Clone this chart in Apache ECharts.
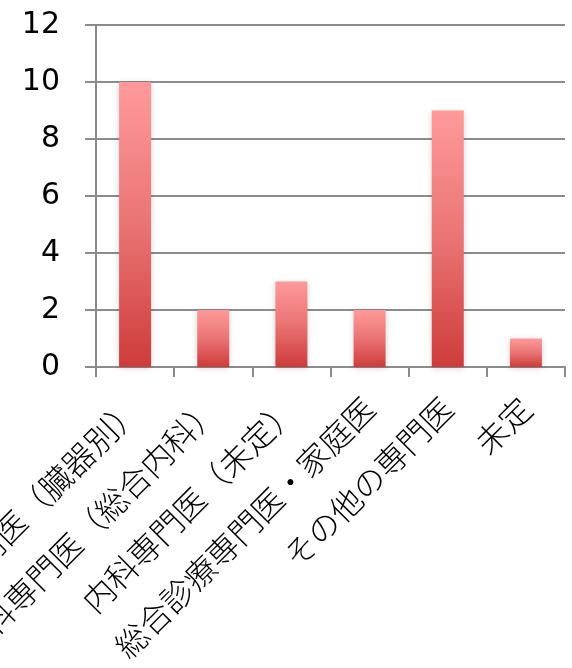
<!DOCTYPE html>
<html>
<head>
<meta charset="utf-8">
<script src="https://cdn.jsdelivr.net/npm/echarts@6/dist/echarts.min.js"></script>
<style>
  html, body { margin: 0; padding: 0; background: #ffffff; }
  #chart { width: 572px; height: 668px; }
</style>
</head>
<body>
<div id="chart"></div>
<script>
// Desired specialty (number of respondents)
const categories = [
  '内科専門医（臓器別）',
  '内科専門医（総合内科）',
  '内科専門医（未定）',
  '総合診療専門医・家庭医',
  'その他の専門医',
  '未定'
];
const counts = [10, 2, 3, 2, 9, 1];
const yTicks = { min: 0, max: 12, interval: 2 };

const gray = '#8c8c8c';
const chart = echarts.init(document.getElementById('chart'), null, { renderer: 'canvas' });

chart.setOption({
  animation: false,
  backgroundColor: '#ffffff',
  grid: {
    left: 96, right: 7, top: 25, bottom: 301,
    containLabel: false,
    outerBoundsMode: 'none'
  },
  xAxis: {
    type: 'category',
    data: categories,
    boundaryGap: true,
    axisLine: { show: true, lineStyle: { color: gray, width: 2 } },
    axisTick: { show: true, length: 10, lineStyle: { color: gray, width: 2 } },
    axisLabel: {
      interval: 0,
      rotate: 45,
      margin: 36,
      color: '#000000',
      fontSize: 32,
      fontWeight: 300,
      hideOverlap: false,
      fontFamily: '"Noto Sans CJK JP Light", "Noto Sans CJK JP", sans-serif'
    }
  },
  yAxis: {
    type: 'value',
    min: yTicks.min,
    max: yTicks.max,
    interval: yTicks.interval,
    axisLine: { show: true, lineStyle: { color: gray, width: 2 } },
    axisTick: { show: true, length: 11, lineStyle: { color: gray, width: 2 } },
    splitLine: { show: true, lineStyle: { color: gray, width: 2 } },
    axisLabel: {
      margin: 36,
      color: '#000000',
      fontSize: 30,
      fontFamily: '"DejaVu Sans", Verdana, sans-serif',
      padding: [0, 0, 6, 0]
    }
  },
  series: [{
    type: 'bar',
    data: counts,
    barWidth: 32,
    itemStyle: {
      color: new echarts.graphic.LinearGradient(0, 0, 0, 1, [
        { offset: 0, color: '#ff9a9a' },
        { offset: 0.5, color: '#ea7474' },
        { offset: 1, color: '#cd3c3a' }
      ]),
      shadowColor: 'rgba(0,0,0,0.18)',
      shadowBlur: 6,
      shadowOffsetX: 0,
      shadowOffsetY: 1
    }
  }]
});
</script>
</body>
</html>
